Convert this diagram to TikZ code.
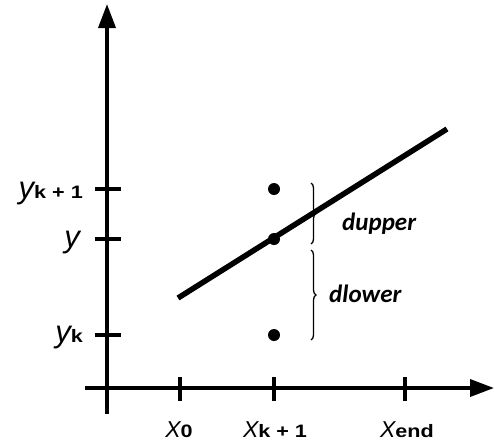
\documentclass[tikz,border=0pt]{standalone}
\usepackage{fontspec}
\setmainfont{Liberation Sans}
\newfontfamily\subf[FakeStretch=1.2]{Liberation Sans}
\newfontfamily\calf{Carlito}
\usetikzlibrary{arrows.meta,decorations.pathreplacing}
\newcommand{\mysub}[1]{{\subf\fontsize{18}{18}\selectfont\bfseries\upshape #1}}
\begin{document}
\begin{tikzpicture}[x=1pt,y=-1pt,
  axis/.style={line width=3.6pt,-{Triangle[length=24pt,width=17pt]}},
  tick/.style={line width=4.2pt},
  ylbl/.style={inner sep=0pt,anchor=base east,font=\fontsize{31}{31}\selectfont\itshape},
  xlbl/.style={inner sep=0pt,anchor=base,font=\fontsize{23}{23}\selectfont\itshape},
  pt/.style={circle,fill=black,inner sep=0pt,minimum size=12pt},
  brc/.style={decorate,decoration={brace,amplitude=5pt},line width=1.3pt},
  dl/.style={inner sep=0pt,anchor=base west,font=\calf\fontsize{25}{25}\selectfont\bfseries\itshape}]
\useasboundingbox (0,0) rectangle (494,445);
% axes
\coordinate (yb) at (107,414);
\coordinate (yt) at (107,4);
\coordinate (xl) at (85,388);
\coordinate (xr) at (494,388);
\draw[axis] (yb) -- (yt);
\draw[axis] (xl) -- (xr);
% x ticks
\foreach \n/\x in {x0/180,xk/274,xe/405}{
  \coordinate (\n t) at (\x,377);
  \coordinate (\n b) at (\x,401);
  \draw[tick] (\n t) -- (\n b);
}
% y ticks
\foreach \n/\y in {ya/189,yb/239,yc/335}{
  \coordinate (\n l) at (95,\y);
  \coordinate (\n r) at (121,\y);
  \draw[tick] (\n l) -- (\n r);
}
% line
\coordinate (la) at (178,298);
\coordinate (lb) at (447,129);
\draw[line width=5.5pt] (la) -- (lb);
% dots
\node[pt] (p1) at (274,189) {};
\node[pt] (p2) at (274,239) {};
\node[pt] (p3) at (274,335) {};
% braces
\coordinate (b1t) at (311,183);
\coordinate (b1b) at (311,244);
\coordinate (b2t) at (311,250);
\coordinate (b2b) at (311,340);
\draw[brc] (b1t) -- (b1b);
\draw[brc] (b2t) -- (b2b);
\node[dl] (du) at (342,230) {dupper};
\node[dl] (dlw) at (329,302) {dlower};
% y labels
\node[ylbl] (lya) at (83,198) {y\mysub{k + 1}};
\node[ylbl] (lyb) at (80,247) {y};
\node[ylbl] (lyc) at (83,342) {y\mysub{k}};
% x labels
\node[xlbl] (lx0) at (179,437) {X\mysub{0}};
\node[xlbl] (lxk) at (275,437) {X\mysub{k + 1}};
\node[xlbl] (lxe) at (407,437) {X\mysub{end}};
\end{tikzpicture}
\end{document}
